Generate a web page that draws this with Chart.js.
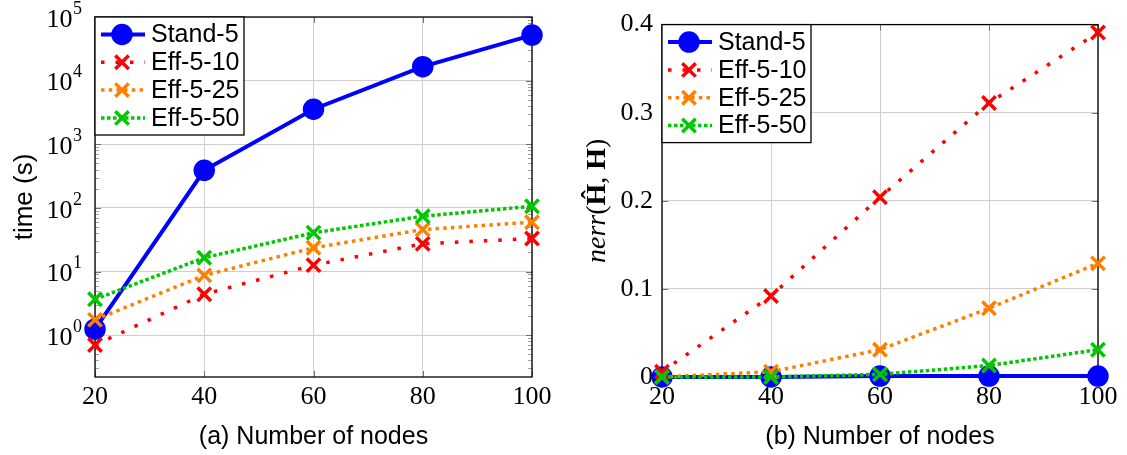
<!DOCTYPE html>
<html><head><meta charset="utf-8">
<script src="https://cdn.jsdelivr.net/npm/chart.js@4/dist/chart.umd.min.js"></script>
<style>
html,body{margin:0;padding:0;background:#fff;}
#wrap{position:relative;width:1127px;height:455px;overflow:hidden;background:#fff;}
canvas{position:absolute;top:0;}
#c1{left:0;} #c2{left:560px;}
</style></head><body>
<div id="wrap"><canvas id="c1" width="560" height="455"></canvas><canvas id="c2" width="567" height="455"></canvas></div>
<script>
// ---- data ----
const nodes = [20, 40, 60, 80, 100];
const seriesNames = ['Stand-5', 'Eff-5-10', 'Eff-5-25', 'Eff-5-50'];
const timeStand5 = [1.24, 390, 3550, 16600, 51900];
const timeEff10 = [0.70, 4.4, 12.6, 27.3, 33];
const timeEff25 = [1.74, 8.7, 23.6, 45.7, 59.6];
const timeEff50 = [3.66, 16.5, 40.6, 74, 106];
const nerrStand5 = [0, 0, 0.001, 0.001, 0.001];
const nerrEff10 = [0.006, 0.092, 0.204, 0.311, 0.391];
const nerrEff25 = [0, 0.006, 0.031, 0.078, 0.129];
const nerrEff50 = [0, 0, 0.003, 0.013, 0.031];
const timeTicks = [1, 10, 100, 1000, 10000, 100000];
const timeExponents = ['0', '1', '2', '3', '4', '5'];
const nerrTicks = [0, 0.1, 0.2, 0.3, 0.4];
const nerrTickLabels = ['0', '0.1', '0.2', '0.3', '0.4'];
const xTicks = [20, 40, 60, 80, 100];
const xTickLabels = ['20', '40', '60', '80', '100'];

// ---- styles ----
const COLORS = ['#0000ff', '#ff0000', '#ff8000', '#00c800'];
const DASHES = [[], [3.5, 11], [3.5, 4.2], [3.5, 2.5]];
const SERIF = '"Liberation Serif", "DejaVu Serif", serif';
const SANS = '"Liberation Sans", "DejaVu Sans", sans-serif';

function makeDatasets(values) {
  return values.map((vals, i) => ({
    label: seriesNames[i],
    data: nodes.map((x, j) => ({x: x, y: vals[j]})),
    borderColor: COLORS[i],
    backgroundColor: COLORS[i],
    borderWidth: i === 0 ? 4 : 3.5,
    borderDash: DASHES[i],
    borderCapStyle: 'butt',
    pointStyle: i === 0 ? 'circle' : 'crossRot',
    pointRadius: i === 0 ? 10 : 9.5,
    pointHoverRadius: i === 0 ? 10 : 9.5,
    pointBorderWidth: i === 0 ? 1.5 : 3.5,
    pointBackgroundColor: COLORS[i],
    pointBorderColor: COLORS[i],
    tension: 0, clip: false, order: 4 - i, fill: false
  }));
}

function seg(ctx, x1, y1, x2, y2) { ctx.beginPath(); ctx.moveTo(x1, y1); ctx.lineTo(x2, y2); ctx.stroke(); }

function framePlugin(yMajor, yMinor) {
  return {
    id: 'frame',
    beforeDatasetsDraw(chart) {
      const {ctx, chartArea: a, scales} = chart;
      ctx.save();
      ctx.lineWidth = 1;
      if (yMinor) {
        ctx.strokeStyle = '#a0a0a0';
        yMinor.forEach(v => {
          const py = Math.round(scales.y.getPixelForValue(v)) + 0.5;
          if (py < a.top || py > a.bottom) return;
          seg(ctx, a.left, py, a.left + 4, py); seg(ctx, a.right, py, a.right - 4, py);
        });
      }
      ctx.strokeStyle = '#707070';
      xTicks.forEach(v => {
        const px = Math.round(scales.x.getPixelForValue(v)) + 0.5;
        seg(ctx, px, a.bottom, px, a.bottom - 6); seg(ctx, px, a.top, px, a.top + 6);
      });
      yMajor.forEach(v => {
        const py = Math.round(scales.y.getPixelForValue(v)) + 0.5;
        seg(ctx, a.left, py, a.left + 6, py); seg(ctx, a.right, py, a.right - 6, py);
      });
      ctx.strokeStyle = '#000'; ctx.lineWidth = 1.3;
      ctx.strokeRect(a.left, a.top, a.right - a.left, a.bottom - a.top);
      ctx.restore();
    }
  };
}

const legendPlugin = {
  id: 'boxLegend',
  afterDatasetsDraw(chart) {
    const {ctx, chartArea: a} = chart;
    const x0 = a.left, y0 = a.top, w = 149, h = 118;
    ctx.save();
    ctx.fillStyle = '#fff'; ctx.fillRect(x0, y0, w, h);
    ctx.strokeStyle = '#000'; ctx.lineWidth = 1.3; ctx.strokeRect(x0, y0, w, h);
    chart.data.datasets.forEach((ds, i) => {
      const cy = y0 + 17.5 + i * 27.8;
      ctx.strokeStyle = ds.borderColor; ctx.lineWidth = ds.borderWidth;
      ctx.lineCap = 'butt';
      ctx.setLineDash(ds.borderDash);
      seg(ctx, x0 + 6, cy, x0 + 50, cy);
      ctx.setLineDash([]);
      const mx = x0 + 27;
      if (ds.pointStyle === 'circle') {
        ctx.fillStyle = ds.borderColor;
        ctx.beginPath(); ctx.arc(mx, cy, ds.pointRadius + 0.75, 0, Math.PI * 2); ctx.fill();
      } else {
        const r = ds.pointRadius * Math.SQRT1_2;
        ctx.lineWidth = ds.pointBorderWidth;
        seg(ctx, mx - r, cy - r, mx + r, cy + r); seg(ctx, mx - r, cy + r, mx + r, cy - r);
      }
      ctx.fillStyle = '#000'; ctx.font = '25px ' + SANS;
      ctx.textBaseline = 'middle'; ctx.textAlign = 'left';
      ctx.fillText(ds.label, x0 + 56, cy + 1);
    });
    ctx.restore();
  }
};

function titlesPlugin(letter, drawYTitle) {
  return {
    id: 'titles',
    afterDraw(chart) {
      const {ctx, chartArea: a} = chart;
      ctx.save();
      ctx.fillStyle = '#000';
      ctx.font = '25px ' + SANS; ctx.textAlign = 'center'; ctx.textBaseline = 'middle';
      ctx.fillText('(' + letter + ') Number of nodes', (a.left + a.right) / 2, 437);
      drawYTitle(ctx, a);
      ctx.restore();
    }
  };
}

const logLabelsPlugin = {
  id: 'logLabels',
  afterDraw(chart) {
    const {ctx, chartArea: a, scales} = chart;
    ctx.save();
    ctx.fillStyle = '#000';
    ctx.textBaseline = 'middle'; ctx.textAlign = 'right';
    timeTicks.forEach((v, i) => {
      const py = scales.y.getPixelForValue(v);
      const right = a.left - 13;
      ctx.font = '18px ' + SERIF;
      const ew = ctx.measureText(timeExponents[i]).width;
      ctx.fillText(timeExponents[i], right, py - 8);
      ctx.font = '26px ' + SERIF;
      ctx.fillText('10', right - ew - 0.5, py + 3);
    });
    ctx.restore();
  }
};

function commonX() {
  return {
    type: 'linear', min: 20, max: 100,
    afterBuildTicks: s => { s.ticks = xTicks.map(v => ({value: v})); },
    afterFit: s => { s.height = 78; },
    grid: {color: '#cfcfcf', lineWidth: 1, drawTicks: false},
    border: {display: false},
    ticks: {
      font: {family: SERIF, size: 26}, color: '#000', padding: 5, maxRotation: 0,
      callback: (v) => xTickLabels[xTicks.indexOf(v)]
    }
  };
}

// ---- chart (a) ----
const minorTime = [];
[0.1, 1, 10, 100, 1000, 10000].forEach(d => { for (let k = 2; k <= 9; k++) minorTime.push(k * d); });

new Chart(document.getElementById('c1'), {
  type: 'line',
  data: {datasets: makeDatasets([timeStand5, timeEff10, timeEff25, timeEff50])},
  options: {
    responsive: false, animation: false, devicePixelRatio: 1,
    layout: {padding: {left: 0, right: 28, top: 17, bottom: 0}},
    plugins: {legend: {display: false}, tooltip: {enabled: false}},
    scales: {
      x: commonX(),
      y: {
        type: 'logarithmic', min: 0.22, max: 100000,
        afterBuildTicks: s => { s.ticks = timeTicks.map(v => ({value: v, major: true})); },
        afterFit: s => { s.width = 95; },
        grid: {color: '#cfcfcf', lineWidth: 1, drawTicks: false},
        border: {display: false},
        ticks: {display: false}
      }
    }
  },
  plugins: [framePlugin(timeTicks, minorTime), legendPlugin, logLabelsPlugin,
    titlesPlugin('a', (ctx, a) => {
      ctx.save();
      ctx.translate(25, (a.top + a.bottom) / 2);
      ctx.rotate(-Math.PI / 2);
      ctx.font = '26px ' + SANS; ctx.textAlign = 'center'; ctx.textBaseline = 'middle';
      ctx.fillText('time (s)', 0, 0);
      ctx.restore();
    })]
});

// ---- chart (b) ----
new Chart(document.getElementById('c2'), {
  type: 'line',
  data: {datasets: makeDatasets([nerrStand5, nerrEff10, nerrEff25, nerrEff50])},
  options: {
    responsive: false, animation: false, devicePixelRatio: 1,
    layout: {padding: {left: 0, right: 29, top: 17, bottom: 0}},
    plugins: {legend: {display: false}, tooltip: {enabled: false}},
    scales: {
      x: commonX(),
      y: {
        type: 'linear', min: 0, max: 0.4,
        afterBuildTicks: s => { s.ticks = nerrTicks.map(v => ({value: v})); },
        afterFit: s => { s.width = 102; },
        grid: {color: '#cfcfcf', lineWidth: 1, drawTicks: false},
        border: {display: false},
        ticks: {
          font: {family: SERIF, size: 26}, color: '#000', padding: 9,
          callback: (v) => nerrTickLabels[nerrTicks.indexOf(v)]
        }
      }
    }
  },
  plugins: [framePlugin(nerrTicks, null), legendPlugin,
    titlesPlugin('b', (ctx, a) => {
      const parts = [
        ['nerr', 'italic 28px ' + SERIF],
        ['(', '28px ' + SERIF],
        ['\u0124', 'bold 28px ' + SERIF],
        [', ', '28px ' + SERIF],
        ['H', 'bold 28px ' + SERIF],
        [')', '28px ' + SERIF]
      ];
      let total = 0;
      parts.forEach(p => { ctx.font = p[1]; total += ctx.measureText(p[0]).width; });
      ctx.save();
      ctx.translate(38, (a.top + a.bottom) / 2);
      ctx.rotate(-Math.PI / 2);
      ctx.textAlign = 'left'; ctx.textBaseline = 'middle';
      let x = -total / 2;
      parts.forEach(p => { ctx.font = p[1]; ctx.fillText(p[0], x, 0); x += ctx.measureText(p[0]).width; });
      ctx.restore();
    })]
});
</script>
</body></html>
